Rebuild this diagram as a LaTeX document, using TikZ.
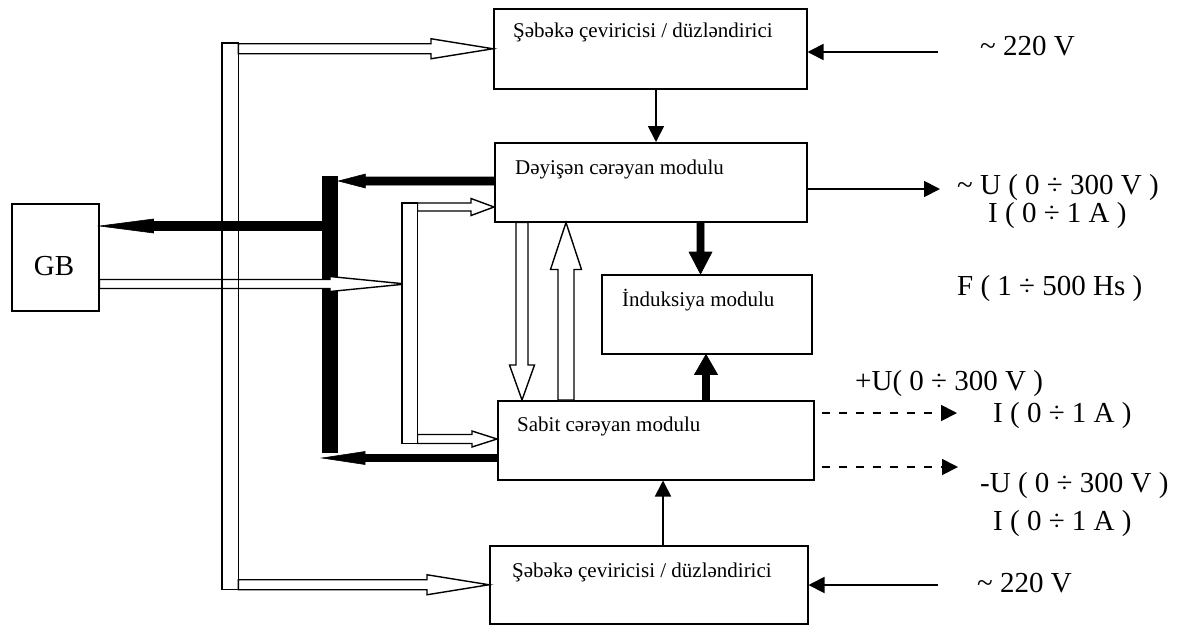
\documentclass[tikz,border=0pt]{standalone}
\usepackage{fontspec}
\setmainfont{Liberation Serif}
\usetikzlibrary{arrows.meta,calc}

% wide block arrow: style, tail, tip, shaft half width, head half width, head length
\newcommand\blockarrow[6]{%
  \coordinate (ba-tail) at (#2);
  \coordinate (ba-tip) at (#3);
  \coordinate (ba-base) at ($(ba-tip)!#6!(ba-tail)$);
  \path[#1] ($(ba-tail)!#4!90:(ba-tip)$) -- ($(ba-base)!#4!90:(ba-tip)$)
     -- ($(ba-base)!#5!90:(ba-tip)$) -- (ba-tip)
     -- ($(ba-base)!#5!-90:(ba-tip)$) -- ($(ba-base)!#4!-90:(ba-tip)$)
     -- ($(ba-tail)!#4!-90:(ba-tip)$) -- cycle;}

\begin{document}
\begin{tikzpicture}[x=1pt,y=-1pt,
  box/.style={draw, line width=1.5pt, inner sep=0pt, anchor=north west},
  boxtext/.style={anchor=base west, inner sep=0pt, font=\fontsize{21}{24}\selectfont},
  lbltext/.style={anchor=base west, inner sep=0pt, font=\fontsize{29}{33}\selectfont},
  thinarrow/.style={line width=1.8pt, -{Triangle[length=16pt,width=16pt]}},
  dasharrow/.style={thinarrow, dash pattern=on 8.5pt off 8.5pt, dash phase=10pt},
  hollow/.style={draw, fill=white, line width=1.4pt, line join=miter},
  solidblk/.style={draw, fill=black, line width=0.6pt, line join=miter},
  busline/.style={draw, line width=1.4pt}]
\useasboundingbox (0,0) rectangle (1177,625);

% module boxes
\node[box, minimum width=313pt, minimum height=80pt] (mainsA) at (493,8) {};
\node[box, minimum width=312pt, minimum height=79pt] (dac) at (494,142) {};
\node[box, minimum width=210pt, minimum height=79pt] (ind) at (601,274) {};
\node[box, minimum width=316pt, minimum height=79pt] (dc) at (497,400) {};
\node[box, minimum width=318pt, minimum height=78pt] (mainsB) at (489,545) {};
\node[box, minimum width=87pt, minimum height=107pt] (gb) at (11,203) {};

% bus bars (outlines drawn later)
\path node[anchor=north west, inner sep=0pt, minimum width=16pt, minimum height=546pt] (busL) at (222,43) {};
\path node[anchor=north west, inner sep=0pt, minimum width=15pt, minimum height=240pt] (busM) at (402,203) {};
\node[anchor=north west, inner sep=0pt, minimum width=16pt, minimum height=277pt, fill=black] (barK) at (322,176) {};

% box texts
\node[boxtext] (tA) at (513,37) {Şəbəkə çeviricisi / düzləndirici};
\node[boxtext] (tdac) at (515,174) {Dəyişən cərəyan modulu};
\node[boxtext] (tind) at (622,306) {İnduksiya modulu};
\node[boxtext] (tdc) at (517,431) {Sabit cərəyan modulu};
\node[boxtext] (tB) at (512,577) {Şəbəkə çeviricisi / düzləndirici};
\node[inner sep=0pt, font=\fontsize{29}{33}\selectfont] (tgb) at (54,266) {GB};

% outer labels
\node[lbltext] (lacA) at (980,55) {\textasciitilde{} 220 V};
\node[lbltext] (lu) at (957,194) {\textasciitilde{} U ( 0 ÷ 300 V )};
\node[lbltext] (li1) at (988,222) {I ( 0 ÷ 1 A )};
\node[lbltext] (lf) at (957,295) {F ( 1 ÷ 500 Hs )};
\node[lbltext] (lup) at (855,390) {+U( 0 ÷ 300 V )};
\node[lbltext] (li2) at (993,422) {I ( 0 ÷ 1 A )};
\node[lbltext] (lun) at (980,492) {-U ( 0 ÷ 300 V )};
\node[lbltext] (li3) at (993,530) {I ( 0 ÷ 1 A )};
\node[lbltext] (lacB) at (977,592) {\textasciitilde{} 220 V};

% reference points for connectors
\coordinate (acinA) at (938,52);
\coordinate (acinB) at (938,585);
\coordinate (xA) at (656,0);
\coordinate (xB) at (663,0);
\coordinate (acout) at (940,189);
\coordinate (dcoutP) at (957,413);
\coordinate (dcoutN) at (958,467);
\coordinate (gbtip) at (406,284);
\coordinate (yblkA) at (0,181);
\coordinate (yblkB) at (0,226);
\coordinate (yblkC) at (0,458);
\coordinate (ymA) at (0,207);
\coordinate (ymB) at (0,439);
\coordinate (xdn) at (522,0);
\coordinate (xup) at (566,0);
\coordinate (xkdn) at (700.5,0);
\coordinate (xkup) at (706,0);

% thin connectors
\draw[thinarrow] (acinA) -- (acinA -| mainsA.east);
\draw[thinarrow] (acinB) -- (acinB -| mainsB.east);
\draw[thinarrow] (xA |- mainsA.south) -- (xA |- dac.north);
\draw[thinarrow] (xB |- mainsB.north) -- (xB |- dc.south);
\draw[thinarrow] (acout -| dac.east) -- (acout);
\draw[dasharrow] (dcoutP -| dc.east) -- (dcoutP);
\draw[dasharrow] (dcoutN -| dc.east) -- (dcoutN);

% black power arrows
\blockarrow{solidblk}{dac.west |- yblkA}{barK.east |- yblkA}{4pt}{7pt}{27pt}
\blockarrow{solidblk}{barK.west |- yblkB}{gb.east |- yblkB}{4.5pt}{7pt}{54pt}
\blockarrow{solidblk}{dc.west |- yblkC}{barK.west |- yblkC}{3.5pt}{6.5pt}{43pt}
\blockarrow{solidblk}{xkdn |- dac.south}{xkdn |- ind.north}{3.5pt}{11.5pt}{22pt}
\blockarrow{solidblk}{xkup |- dc.north}{xkup |- ind.south}{3.5pt}{11.5pt}{20pt}

% hollow data arrows
\blockarrow{hollow}{busL.east |- mainsA.west}{mainsA.west}{5pt}{10pt}{62pt}
\blockarrow{hollow}{busL.east |- mainsB.west}{mainsB.west}{5pt}{10pt}{62pt}
\blockarrow{hollow}{gb.east |- gbtip}{gbtip}{4.5pt}{7.5pt}{76pt}
\blockarrow{hollow}{busM.east |- ymA}{dac.west |- ymA}{4pt}{8.5pt}{23pt}
\blockarrow{hollow}{busM.east |- ymB}{dc.west |- ymB}{4.5pt}{8pt}{25pt}
\blockarrow{hollow}{xdn |- dac.south}{xdn |- dc.north}{6pt}{12.5pt}{35pt}
\blockarrow{hollow}{xup |- dc.north}{xup |- dac.south}{8pt}{15.5pt}{47pt}

% bus outlines on top
\draw[busline] (busL.north west) rectangle (busL.south east);
\draw[busline, fill=white] (busM.north west) rectangle (busM.south east);
\end{tikzpicture}
\end{document}
